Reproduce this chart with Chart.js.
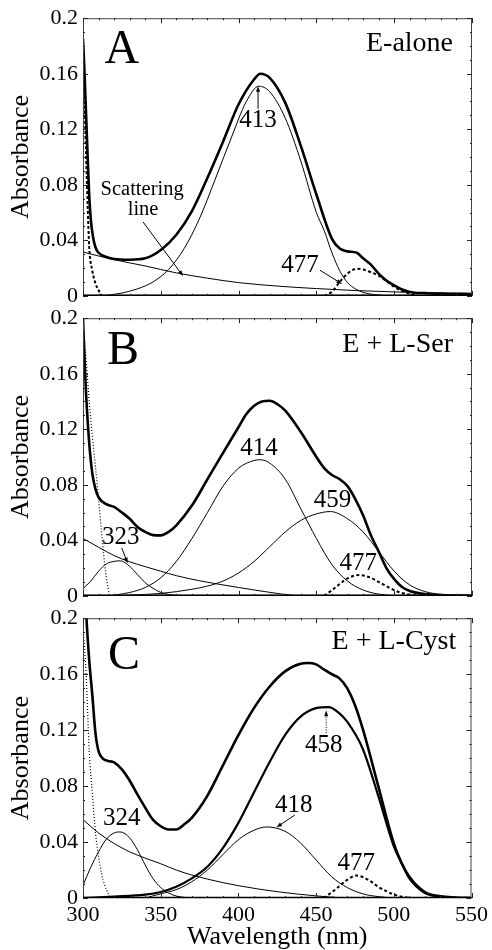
<!DOCTYPE html>
<html>
<head>
<meta charset="utf-8">
<script src="https://cdn.jsdelivr.net/npm/chart.js@4.4.1/dist/chart.umd.min.js"></script>
<style>
  body { margin: 0; background: #fff; overflow: hidden; }
  #wrap { position: relative; width: 492px; height: 950px; }
  canvas { position: absolute; left: 0; }
</style>
</head>
<body>
<div id="wrap">
  <canvas id="panelA" width="492" height="314" style="top:0px"></canvas>
  <canvas id="panelB" width="492" height="314" style="top:300px"></canvas>
  <canvas id="panelC" width="492" height="350" style="top:600px"></canvas>
</div>
<script>
const serif = "'Liberation Serif', 'Times New Roman', serif";
Chart.defaults.color = '#000';
Chart.defaults.font.family = serif;

// axis ticks
const xTicks = [300, 350, 400, 450, 500, 550];
const yTicks = [0, 0.04, 0.08, 0.12, 0.16, 0.2];

// ---- panel A: E-alone ----
const aTotalX = [300, 301, 302, 303, 304, 305, 306.5, 308, 310, 315, 320, 330, 340, 350, 360, 370, 380, 390, 400, 410, 414, 420, 430, 440, 450, 460, 465, 470, 476, 480, 485, 490, 495, 500, 505, 510, 520, 535, 550];
const aTotalY = [0.185, 0.16, 0.13, 0.10, 0.072, 0.055, 0.042, 0.035, 0.031, 0.028, 0.0265, 0.026, 0.027, 0.033, 0.044, 0.061, 0.085, 0.111, 0.138, 0.156, 0.160, 0.157, 0.139, 0.108, 0.073, 0.041, 0.034, 0.032, 0.031, 0.027, 0.0225, 0.016, 0.011, 0.0075, 0.0045, 0.0028, 0.0019, 0.0015, 0.0013];
const aBand413X = [313, 325, 335, 345, 355, 365, 375, 385, 395, 405, 413, 420, 430, 440, 450, 455, 460, 465, 470, 475, 480, 490, 495];
const aBand413Y = [0, 0.002, 0.005, 0.010, 0.019, 0.034, 0.056, 0.084, 0.113, 0.140, 0.151, 0.147, 0.128, 0.097, 0.060, 0.047, 0.031, 0.018, 0.0095, 0.005, 0.0025, 0.0005, 0];
const aScatterX = [300, 320, 340, 360, 380, 400, 425, 450, 475, 500, 525, 550];
const aScatterY = [0.0315, 0.026, 0.0215, 0.0165, 0.0127, 0.0095, 0.007, 0.0052, 0.0038, 0.0028, 0.002, 0.0016];
const aUvX = [300, 301, 302, 303, 304, 306, 308, 310, 312];
const aUvY = [0.18, 0.14, 0.10, 0.065, 0.035, 0.018, 0.009, 0.004, 0];
const aBand477X = [455, 460, 465, 470, 476, 480, 485, 490, 495, 500, 505, 510, 515];
const aBand477Y = [0, 0.003, 0.010, 0.016, 0.0195, 0.019, 0.017, 0.0145, 0.0105, 0.0065, 0.0035, 0.0015, 0];

// ---- panel B: E + L-Ser ----
const bTotalX = [300, 301, 302, 304, 306, 308, 310, 315, 320, 325, 330, 335, 340, 345, 350, 355, 360, 370, 380, 390, 400, 405, 410, 415, 420, 425, 430, 440, 450, 455, 460, 465, 470, 475, 480, 485, 490, 495, 500, 505, 510, 520, 530, 550];
const bTotalY = [0.2, 0.17, 0.145, 0.11, 0.088, 0.077, 0.071, 0.066, 0.064, 0.060, 0.0555, 0.0496, 0.046, 0.0437, 0.0435, 0.046, 0.0508, 0.065, 0.084, 0.103, 0.1216, 0.131, 0.137, 0.140, 0.1405, 0.138, 0.1334, 0.118, 0.100, 0.092, 0.087, 0.084, 0.079, 0.0697, 0.058, 0.0437, 0.032, 0.020, 0.012, 0.0064, 0.0035, 0.0012, 0.0005, 0];
const bBand323X = [300, 305, 310, 315, 320, 324, 330, 335, 340, 345, 350, 360, 370];
const bBand323Y = [0.0052, 0.0106, 0.0177, 0.023, 0.0248, 0.0252, 0.0212, 0.0153, 0.0094, 0.0054, 0.0024, 0.0003, 0];
const bBand414X = [317, 330, 340, 350, 360, 370, 380, 390, 400, 410, 414, 420, 430, 440, 450, 460, 470, 480, 490, 500];
const bBand414Y = [0, 0.0024, 0.006, 0.013, 0.0248, 0.0413, 0.060, 0.079, 0.092, 0.0975, 0.098, 0.0956, 0.084, 0.0626, 0.0413, 0.0224, 0.0106, 0.0042, 0.0012, 0];
const bBand459X = [320, 330, 350, 370, 380, 390, 400, 410, 420, 430, 440, 450, 459, 470, 480, 490, 500, 510, 520, 530, 545];
const bBand459Y = [0, 0.0005, 0.0017, 0.0047, 0.007, 0.0106, 0.0165, 0.0248, 0.0354, 0.046, 0.0543, 0.059, 0.0607, 0.0555, 0.046, 0.032, 0.0177, 0.0078, 0.003, 0.001, 0];
const bScatterX = [300, 310, 320, 330, 340, 350, 360, 375, 400, 420, 435, 440];
const bScatterY = [0.0413, 0.035, 0.029, 0.0245, 0.021, 0.0177, 0.0145, 0.0108, 0.006, 0.0025, 0.0003, 0];
const bUvX = [300, 302, 304, 306, 308, 310, 312, 314, 316, 317];
const bUvY = [0.195, 0.17, 0.14, 0.115, 0.093, 0.07, 0.045, 0.022, 0.006, 0];
const bBand477X = [455, 460, 465, 470, 477, 485, 490, 495, 500, 505, 510, 520];
const bBand477Y = [0, 0.004, 0.0085, 0.0125, 0.015, 0.013, 0.010, 0.007, 0.004, 0.002, 0.0008, 0];

// ---- panel C: E + L-Cyst ----
const cTotalX = [300, 302, 304, 306, 308, 310, 313, 316, 320, 325, 330, 335, 340, 345, 350, 355, 360, 365, 370, 380, 390, 400, 410, 420, 430, 440, 445, 450, 455, 460, 465, 470, 475, 480, 490, 500, 505, 510, 520, 530, 540, 550];
const cTotalY = [0.26, 0.205, 0.17, 0.145, 0.118, 0.105, 0.0995, 0.098, 0.097, 0.092, 0.084, 0.074, 0.0646, 0.056, 0.0513, 0.049, 0.049, 0.0525, 0.0573, 0.073, 0.0947, 0.1164, 0.1357, 0.151, 0.162, 0.1675, 0.168, 0.167, 0.1634, 0.160, 0.157, 0.150, 0.138, 0.121, 0.080, 0.039, 0.025, 0.0152, 0.0043, 0.0012, 0.0004, 0];
const cBand458X = [300, 320, 340, 350, 360, 370, 380, 390, 400, 410, 420, 430, 440, 450, 458, 465, 470, 480, 490, 500, 505, 510, 520, 530, 540];
const cBand458Y = [0, 0.001, 0.0024, 0.0043, 0.008, 0.014, 0.0224, 0.0357, 0.0537, 0.0754, 0.097, 0.1164, 0.1296, 0.1357, 0.1364, 0.132, 0.126, 0.1067, 0.073, 0.0369, 0.025, 0.014, 0.0036, 0.001, 0];
const cBand418X = [340, 350, 360, 370, 380, 390, 400, 410, 418, 430, 440, 450, 460, 470, 480, 490, 500];
const cBand418Y = [0, 0.003, 0.006, 0.0116, 0.020, 0.031, 0.0417, 0.0484, 0.0508, 0.0477, 0.0393, 0.0272, 0.0152, 0.0075, 0.003, 0.001, 0];
const cBand324X = [300, 305, 310, 315, 320, 324, 330, 335, 340, 345, 350, 355, 360, 365, 370];
const cBand324Y = [0.009, 0.022, 0.033, 0.042, 0.0465, 0.0472, 0.043, 0.0345, 0.0236, 0.014, 0.0075, 0.0036, 0.0014, 0.0005, 0];
const cScatterX = [300, 310, 320, 330, 340, 350, 360, 370, 390, 400, 425, 450, 460, 470];
const cScatterY = [0.056, 0.0465, 0.039, 0.033, 0.0285, 0.0245, 0.020, 0.0164, 0.011, 0.0088, 0.0045, 0.0015, 0.0006, 0];
const cUvX = [300, 302, 304, 306, 308, 310, 312, 314, 316, 318];
const cUvY = [0.195, 0.16, 0.105, 0.075, 0.047, 0.03, 0.017, 0.009, 0.0035, 0];
const cBand477X = [455, 460, 465, 470, 476, 480, 485, 490, 495, 500, 505, 510];
const cBand477Y = [0, 0.004, 0.0085, 0.013, 0.016, 0.015, 0.012, 0.008, 0.005, 0.0025, 0.001, 0];

// line styles
const sTotal = { borderWidth: 2.6 };
const sThin = { borderWidth: 1 };
const sHeavyBand = { borderWidth: 2.2 };
const sDash477 = { borderWidth: 2, borderDash: [3, 2.5] };
const sUvDash = { borderWidth: 2, borderDash: [3, 2] };
const sUvDot = { borderWidth: 1.2, borderDash: [1, 2] };

function series(xs, ys, style) {
  return Object.assign({
    data: xs.map((x, i) => ({ x: x, y: ys[i] })),
    borderColor: '#000',
    pointRadius: 0,
    fill: false,
    cubicInterpolationMode: 'monotone'
  }, style);
}

// box with inward ticks on all four sides
const frame = {
  id: 'frame',
  afterDatasetsDraw(chart) {
    const { ctx, chartArea: a, scales: { x, y } } = chart;
    ctx.save();
    ctx.strokeStyle = '#444';
    ctx.lineWidth = 1;
    ctx.strokeRect(a.left + 0.5, a.top + 0.5, a.right - a.left - 1, a.bottom - a.top - 1);
    ctx.strokeStyle = '#000';
    ctx.lineWidth = 1.6;
    ctx.beginPath();
    ctx.moveTo(a.left, a.bottom - 0.5);
    ctx.lineTo(a.right, a.bottom - 0.5);
    ctx.stroke();
    ctx.lineWidth = 1;
    ctx.strokeStyle = '#222';
    ctx.beginPath();
    for (let v = xTicks[0]; v <= xTicks[xTicks.length - 1]; v += 10) {
      const px = Math.round(x.getPixelForValue(v)) + 0.5;
      const len = xTicks.includes(v) ? 5 : 2;
      ctx.moveTo(px, a.top); ctx.lineTo(px, a.top + len);
      ctx.moveTo(px, a.bottom); ctx.lineTo(px, a.bottom - len);
    }
    for (let k = 0; k <= 20; k++) {
      const py = Math.round(y.getPixelForValue(k / 100)) + 0.5;
      const len = k % 4 === 0 ? 5 : 2;
      ctx.moveTo(a.left, py); ctx.lineTo(a.left + len, py);
      ctx.moveTo(a.right, py); ctx.lineTo(a.right - len, py);
    }
    ctx.stroke();
    ctx.restore();
  }
};

function arrow(ctx, x1, y1, x2, y2, dotted) {
  const ang = Math.atan2(y2 - y1, x2 - x1);
  const head = 6;
  ctx.lineWidth = 1;
  ctx.setLineDash(dotted ? [1, 1.5] : []);
  ctx.beginPath();
  ctx.moveTo(x1, y1);
  ctx.lineTo(x2 - Math.cos(ang) * head * 0.8, y2 - Math.sin(ang) * head * 0.8);
  ctx.stroke();
  ctx.setLineDash([]);
  ctx.beginPath();
  ctx.moveTo(x2, y2);
  ctx.lineTo(x2 - head * Math.cos(ang - 0.35), y2 - head * Math.sin(ang - 0.35));
  ctx.lineTo(x2 - head * Math.cos(ang + 0.35), y2 - head * Math.sin(ang + 0.35));
  ctx.closePath();
  ctx.fill();
}

// text labels and arrows placed in data units
const notes = {
  id: 'notes',
  afterDatasetsDraw(chart, args, opts) {
    const { ctx, scales: { x, y } } = chart;
    ctx.save();
    ctx.fillStyle = '#000';
    ctx.strokeStyle = '#000';
    (opts.items || []).forEach(n => {
      if (n.text) {
        ctx.font = n.size + 'px ' + serif;
        ctx.textAlign = n.align || 'center';
        ctx.textBaseline = 'middle';
        ctx.fillText(n.text, x.getPixelForValue(n.x), y.getPixelForValue(n.y));
      } else {
        arrow(ctx, x.getPixelForValue(n.from[0]), y.getPixelForValue(n.from[1]),
          x.getPixelForValue(n.to[0]), y.getPixelForValue(n.to[1]), n.dotted);
      }
    });
    ctx.restore();
  }
};

const notesA = [
  { text: 'A', x: 325, y: 0.177, size: 48 },
  { text: 'E-alone', x: 537.8, y: 0.182, size: 28, align: 'right' },
  { text: '413', x: 412.5, y: 0.126, size: 25 },
  { from: [412.5, 0.1348], to: [412.5, 0.151] },
  { text: 'Scattering', x: 338, y: 0.0766, size: 20.5 },
  { text: 'line', x: 338.6, y: 0.0618, size: 20.5 },
  { from: [338.6, 0.0532], to: [364.3, 0.0142] },
  { text: '477', x: 439.5, y: 0.0222, size: 25 },
  { from: [452.3, 0.0184], to: [466.5, 0.0085] }
];
const notesB = [
  { text: 'B', x: 325.7, y: 0.176, size: 48 },
  { text: 'E + L-Ser', x: 537.8, y: 0.181, size: 28, align: 'right' },
  { text: '414', x: 413.1, y: 0.1064, size: 25 },
  { text: '459', x: 460.3, y: 0.0688, size: 25 },
  { text: '323', x: 324.3, y: 0.0423, size: 25 },
  { from: [324.9, 0.0345], to: [328.7, 0.0234] },
  { text: '477', x: 476.9, y: 0.0234, size: 25 }
];
const notesC = [
  { text: 'C', x: 326.4, y: 0.173, size: 48 },
  { text: 'E + L-Cyst', x: 540.2, y: 0.183, size: 28, align: 'right' },
  { text: '458', x: 454.9, y: 0.1087, size: 25 },
  { from: [456.5, 0.118], to: [456.5, 0.134], dotted: true },
  { text: '418', x: 435.6, y: 0.0664, size: 25 },
  { from: [436.3, 0.0593], to: [424.5, 0.0505] },
  { text: '324', x: 324.9, y: 0.0569, size: 25 },
  { text: '477', x: 475.9, y: 0.0248, size: 25 }
];

function makePanel(id, datasets, items, top, xHeight, bottom) {
  return new Chart(document.getElementById(id), {
    type: 'line',
    data: { datasets: datasets },
    options: {
      responsive: false,
      animation: false,
      events: [],
      layout: { padding: { top: top, right: 20, left: 0, bottom: 0 } },
      plugins: {
        legend: { display: false },
        tooltip: { enabled: false },
        notes: { items: items }
      },
      scales: {
        x: {
          type: 'linear',
          min: xTicks[0],
          max: xTicks[xTicks.length - 1],
          grid: { display: false, drawTicks: false },
          border: { display: false },
          ticks: { display: bottom, stepSize: 50, padding: 4, font: { size: 22 } },
          title: { display: bottom, text: 'Wavelength (nm)', font: { size: 26, lineHeight: 1.0 }, padding: { top: 0, bottom: 0 } },
          afterBuildTicks: s => { s.ticks = xTicks.map(v => ({ value: v })); },
          afterFit: s => { s.height = xHeight; }
        },
        y: {
          min: yTicks[0],
          max: yTicks[yTicks.length - 1],
          grid: { display: false, drawTicks: false },
          border: { display: false },
          ticks: { padding: 5, font: { size: 22 }, callback: v => String(+v.toFixed(2)) },
          title: { display: true, text: 'Absorbance', font: { size: 26 }, padding: { top: 6, bottom: 0 } },
          afterBuildTicks: s => { s.ticks = yTicks.map(v => ({ value: v })); },
          afterFit: s => { s.width = 83; }
        }
      }
    },
    plugins: [frame, notes]
  });
}

makePanel('panelA', [
  series(aUvX, aUvY, sUvDash),
  series(aScatterX, aScatterY, sThin),
  series(aBand413X, aBand413Y, sThin),
  series(aBand477X, aBand477Y, sDash477),
  series(aTotalX, aTotalY, sTotal)
], notesA, 16, 16, false);

makePanel('panelB', [
  series(bUvX, bUvY, sUvDot),
  series(bScatterX, bScatterY, sThin),
  series(bBand323X, bBand323Y, sThin),
  series(bBand414X, bBand414Y, sThin),
  series(bBand459X, bBand459Y, sThin),
  series(bBand477X, bBand477Y, sDash477),
  series(bTotalX, bTotalY, sTotal)
], notesB, 16, 16, false);

makePanel('panelC', [
  series(cUvX, cUvY, sUvDot),
  series(cScatterX, cScatterY, sThin),
  series(cBand324X, cBand324Y, sThin),
  series(cBand418X, cBand418Y, sThin),
  series(cBand458X, cBand458Y, sHeavyBand),
  series(cBand477X, cBand477Y, sDash477),
  series(cTotalX, cTotalY, sTotal)
], notesC, 18, 52, true);
</script>
</body>
</html>
